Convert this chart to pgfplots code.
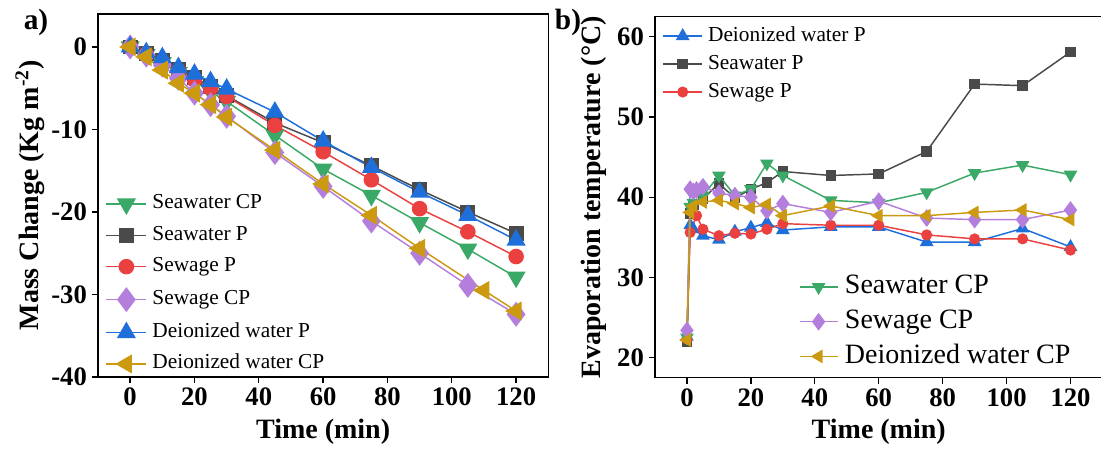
\documentclass[border=0pt]{standalone}
\usepackage{pgfplots}
\pgfplotsset{compat=1.18}
\usepackage{fontspec}
\setmainfont{Liberation Serif}
\definecolor{cgreen}{HTML}{3AA866}
\definecolor{cgray}{HTML}{4A4A4A}
\definecolor{cred}{HTML}{EB4040}
\definecolor{cpurple}{HTML}{B47FDC}
\definecolor{cblue}{HTML}{1F6FDB}
\definecolor{cgold}{HTML}{CC9A10}
\pgfplotsset{
  base/.style={
    scale only axis,
    tick pos=left,
    tick align=outside,
    major tick length=4.5pt,
    every tick/.style={black,line width=1pt},
    axis line style={line width=1pt},
    every axis/.append style={line width=1pt},
    ticklabel style={font=\fontsize{20}{20}\selectfont\bfseries},
    label style={font=\fontsize{21}{21}\selectfont\bfseries},
    xtick={0,20,40,60,80,100,120},
    xticklabels={0,20,40,60,80,100,120},
    xmin=-10, xmax=130,
    xlabel={Time (min)},
    legend cell align=left,
  },
  limg/.style={legend image code/.code={\draw[mark repeat=2,mark phase=2,##1] plot coordinates {(0pt,0pt) (#1,0pt) (2*#1,0pt)};}},
  sgreen/.style={cgreen, line width=1.1pt, mark=triangle*, mark options={scale=1.35, rotate=180, fill=cgreen, draw=cgreen}},
  sgray/.style={cgray, line width=1.1pt, mark=square*, mark options={scale=0.95, fill=cgray, draw=cgray}},
  sred/.style={cred, line width=1.1pt, mark=*, mark options={fill=cred, draw=cred}},
  spurple/.style={cpurple, line width=1.1pt, mark=diamond*, mark options={scale=1.6, fill=cpurple, draw=cpurple}},
  sblue/.style={cblue, line width=1.1pt, mark=triangle*, mark options={scale=1.35, fill=cblue, draw=cblue}},
  sgold/.style={cgold, line width=1.1pt, mark=triangle*, mark options={scale=1.35, rotate=90, fill=cgold, draw=cgold}},
}
\begin{document}
\begin{tikzpicture}[x=1pt,y=1pt]
\useasboundingbox (0,0) rectangle (825.75,338.25);
% ---------------- panel a
\begin{axis}[base,
  at={(73.5pt,55.5pt)}, anchor=south west,
  width=337.7pt, height=272.3pt,
  ymin=-40, ymax=4,
  ytick={-40,-30,-20,-10,0},
  yticklabels={-40,-30,-20,-10,0},
  ylabel={Mass Change (Kg m\textsuperscript{-2})},
  x label style={at={(axis description cs:0.5,-0.1515)}, anchor=center},
  y label style={at={(axis description cs:-0.151,0.5)}, anchor=center},
  mark size=5.3pt,
  limg=15pt,
  legend style={draw=none, fill=none, inner sep=0pt, at={(rel axis cs:0.0155,0.505)}, anchor=north west,
    font=\fontsize{16}{16}\selectfont, row sep=9pt, column sep=4pt,
    nodes={inner sep=0pt, text height=11pt, text depth=3.5pt}},
]
\addplot[sgreen] coordinates {(0,0)(5,-0.9)(10,-1.9)(15,-3.1)(20,-4.2)(25,-5.4)(30,-6.6)(45,-10.7)(60,-14.8)(75,-18.0)(90,-21.3)(105,-24.5)(120,-27.9)};
\addlegendentry{Seawater CP}
\addplot[sgray] coordinates {(0,0)(5,-0.8)(10,-1.6)(15,-2.7)(20,-3.7)(25,-4.8)(30,-5.9)(45,-9.2)(60,-11.6)(75,-14.4)(90,-17.3)(105,-20.0)(120,-22.6)};
\addlegendentry{Seawater P}
\addplot[sred] coordinates {(0,0)(5,-0.9)(10,-1.8)(15,-2.9)(20,-4.0)(25,-5.0)(30,-6.0)(45,-9.5)(60,-12.7)(75,-16.1)(90,-19.6)(105,-22.4)(120,-25.4)};
\addlegendentry{Sewage P}
\addplot[spurple] coordinates {(0,0)(5,-1.0)(10,-2.2)(15,-3.8)(20,-5.6)(25,-7.0)(30,-8.4)(45,-12.8)(60,-16.9)(75,-21.1)(90,-25.0)(105,-28.9)(120,-32.4)};
\addlegendentry{Sewage CP}
\addplot[sblue] coordinates {(0,0)(5,-0.7)(10,-1.3)(15,-2.5)(20,-3.3)(25,-4.2)(30,-5.1)(45,-7.9)(60,-11.4)(75,-14.6)(90,-17.6)(105,-20.4)(120,-23.4)};
\addlegendentry{Deionized water P}
\addplot[sgold] coordinates {(0,0)(5,-1.2)(10,-2.8)(15,-4.4)(20,-5.6)(25,-7.0)(30,-8.5)(45,-12.5)(60,-16.6)(75,-20.4)(90,-24.4)(110,-29.5)(120,-32.0)};
\addlegendentry{Deionized water CP}
\end{axis}
% ---------------- panel b
\begin{axis}[base,
  at={(491.25pt,55pt)}, anchor=south west,
  width=335.6pt, height=270.75pt,
  ymin=17.5, ymax=62.5,
  ytick={20,30,40,50,60},
  yticklabels={20,30,40,50,60},
  ylabel={Evaporation temperature (\textdegree C)},
  x label style={at={(axis description cs:0.5,-0.150)}, anchor=center},
  y label style={at={(axis description cs:-0.136,0.5)}, anchor=center},
  mark size=3.6pt,
  limg=14.5pt,
  legend style={draw=none, fill=none, inner sep=0pt, at={(rel axis cs:0.0156,0.975)}, anchor=north west,
    font=\fontsize{16}{16}\selectfont, row sep=6.5pt, column sep=4pt,
    nodes={inner sep=0pt, text height=11pt, text depth=3.5pt}},
]
\addplot[sblue] coordinates {(0,22.6)(1,36.5)(2,36.0)(5,35.2)(10,34.7)(15,35.7)(20,36.2)(25,36.8)(30,35.9)(45,36.3)(60,36.3)(75,34.4)(90,34.4)(105,36.1)(120,33.8)};
\addlegendentry{Deionized water P}
\addplot[sgray] coordinates {(0,22.0)(1,38.0)(2,39.0)(5,39.8)(10,41.7)(15,39.9)(20,41.0)(25,41.8)(30,43.2)(45,42.7)(60,42.9)(75,45.7)(90,54.1)(105,53.9)(120,58.1)};
\addlegendentry{Seawater P}
\addplot[sred] coordinates {(0,22.3)(1,35.6)(3,37.7)(5,36.0)(10,35.2)(15,35.5)(20,35.4)(25,36.0)(30,36.7)(45,36.5)(60,36.5)(75,35.3)(90,34.8)(105,34.8)(120,33.4)};
\addlegendentry{Sewage P}
\end{axis}
\begin{axis}[base, hide axis,
  at={(491.25pt,55pt)}, anchor=south west,
  width=335.6pt, height=270.75pt,
  ymin=17.5, ymax=62.5,
  mark size=3.6pt,
  limg=14.25pt,
  legend style={draw=none, fill=none, inner sep=0pt, at={(rel axis cs:0.32,0.286)}, anchor=north west,
    font=\fontsize{21}{21}\selectfont, row sep=8pt, column sep=5pt,
    nodes={inner sep=0pt, text height=14pt, text depth=4pt}},
]
\addplot[sgreen] coordinates {(0,22.5)(1,38.8)(2,39.3)(5,40.2)(10,42.7)(15,40.2)(20,41.0)(25,44.2)(30,42.7)(45,39.6)(60,39.3)(75,40.6)(90,43.0)(105,44.0)(120,42.8)};
\addlegendentry{Seawater CP}
\addplot[spurple] coordinates {(0,23.4)(1,41.0)(2,40.7)(3,40.9)(5,41.3)(10,40.5)(15,40.2)(20,40.0)(25,38.3)(30,39.2)(45,38.1)(60,39.5)(75,37.4)(90,37.2)(105,37.2)(120,38.4)};
\addlegendentry{Sewage CP}
\addplot[sgold] coordinates {(0,22.2)(1,38.1)(2,38.9)(5,39.4)(10,39.6)(15,39.2)(20,38.7)(25,39.1)(30,37.7)(45,38.9)(60,37.7)(75,37.7)(90,38.1)(105,38.4)(120,37.2)};
\addlegendentry{Deionized water CP}
\end{axis}
\node[font=\fontsize{22}{22}\selectfont\bfseries] at (27pt,321.75pt) {a)};
\node[font=\fontsize{22}{22}\selectfont\bfseries] at (426pt,321.75pt) {b)};
\end{tikzpicture}
\end{document}
